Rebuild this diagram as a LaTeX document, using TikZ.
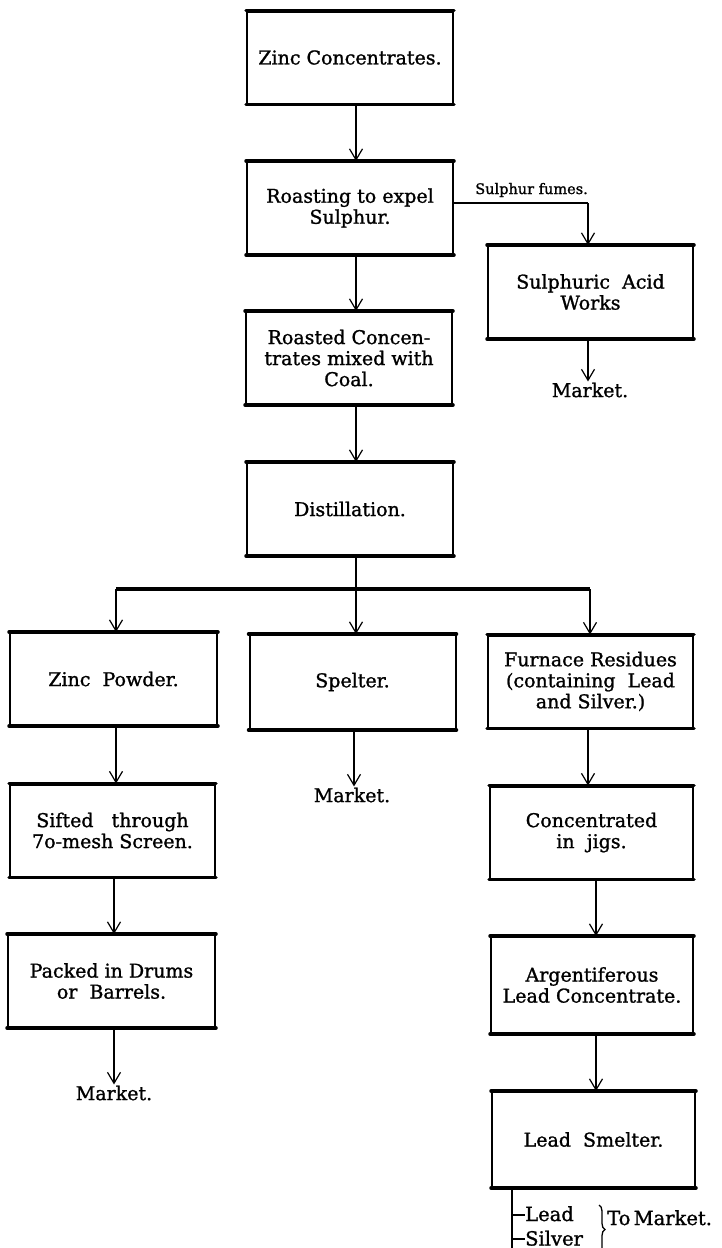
\documentclass[tikz,border=0pt]{standalone}
\usepackage{fontspec}
\setmainfont{DejaVu Serif}[FakeBold=1.2]
\usetikzlibrary{arrows.meta,decorations.pathreplacing}
\begin{document}
\begin{tikzpicture}[x=1pt,y=-1pt,
  box/.style={draw,line width=2pt,minimum width=206pt,minimum height=92pt,inner sep=0pt,align=center,font=\fontsize{19}{21}\selectfont},
  edge/.style={line width=3.5pt,line cap=round},
  arr/.style={line width=1.2pt,-{Straight Barb[length=11pt,width=13pt,line width=1.2pt]}},
  mkt/.style={font=\fontsize{19}{21}\selectfont,inner sep=1pt},
  small/.style={font=\fontsize{14.5}{16}\selectfont,inner sep=0pt},
  outlab/.style={font=\fontsize{19.5}{21}\selectfont,inner sep=0pt}
]
\useasboundingbox[fill=white] (0,0) rectangle (722,1248);

\node[box] (zc) at (350,57.5) {Zinc Concentrates.};
\node[box] (roast) at (350,208) {Roasting to expel\\Sulphur.};
\node[box,minimum width=205pt] (acid) at (590.5,292) {Sulphuric\ \ Acid\\Works};
\node[mkt] (m1) at (590,390) {Market.};
\node[box] (roasted) at (349,358) {Roasted Concen-\\trates mixed with\\Coal.};
\node[box] (dist) at (350,509) {Distillation.};
\node[box,minimum width=207pt] (zp) at (113.5,679) {Zinc\ \ Powder.};
\node[box,minimum height=94pt] (spelter) at (352.5,682) {Spelter.};
\node[box,minimum width=205pt] (furnace) at (590.5,681.5) {Furnace Residues\\(containing\ \ Lead\\and Silver.)};
\node[mkt] (m2) at (352,795) {Market.};
\node[box,minimum width=205pt] (sifted) at (112.5,830.5) {Sifted\ \ \ through\\7o-mesh Screen.};
\node[box,minimum width=203pt] (conc) at (591.5,832.5) {Concentrated\\in\ \ jigs.};
\node[box,minimum width=207pt] (packed) at (111.5,981) {Packed in Drums\\or\ \ Barrels.};
\node[mkt] (m3) at (114,1093) {Market.};
\node[box,minimum width=202pt,minimum height=96pt] (arg) at (592,985) {Argentiferous\\Lead Concentrate.};
\node[box,minimum width=203pt,minimum height=95pt] (smelter) at (593.5,1139.5) {Lead\ \ Smelter.};

\foreach \n in {zc,roast,acid,roasted,dist,zp,spelter,furnace,sifted,conc,packed,arg,smelter}
  \draw[edge] (\n.north west) -- (\n.north east) (\n.south west) -- (\n.south east);

% column x positions for the connectors
\coordinate (cM) at (356,0);
\coordinate (cA) at (588,0);
\coordinate (cL1) at (116,0);
\coordinate (cL2) at (114,0);
\coordinate (cS) at (354,0);
\coordinate (cR1) at (588,0);
\coordinate (cR2) at (596,0);

% main chain
\draw[arr] (zc.south -| cM) -- (roast.north -| cM);
\draw[arr] (roast.south -| cM) -- (roasted.north -| cM);
\draw[arr] (roasted.south -| cM) -- (dist.north -| cM);

% sulphur fumes
\coordinate (sf) at (588,203);
\draw[line width=2pt] (roast.east |- sf) -- (sf);
\draw[arr] (sf) -- (acid.north -| sf);
\node[small,anchor=base east] (sflab) at (588,194) {Sulphur\ fumes.};
\draw[arr] (acid.south -| cA) -- (m1.north -| cA);

% distillation split
\coordinate (bm) at (356,589);
\coordinate (bl) at (116,589);
\coordinate (br) at (590,589);
\draw[line width=2pt] (dist.south -| bm) -- (bm);
\draw[line width=3.2pt] (bl) -- (br);
\draw[arr] (bl) -- (zp.north -| bl);
\draw[arr] (bm) -- (spelter.north -| bm);
\draw[arr] (br) -- (furnace.north -| br);

% left column
\draw[arr] (zp.south -| cL1) -- (sifted.north -| cL1);
\draw[arr] (sifted.south -| cL2) -- (packed.north -| cL2);
\draw[arr] (packed.south -| cL2) -- (m3.north -| cL2);

% middle
\draw[arr] (spelter.south -| cS) -- (m2.north -| cS);

% right column
\draw[arr] (furnace.south -| cR1) -- (conc.north -| cR1);
\draw[arr] (conc.south -| cR2) -- (arg.north -| cR2);
\draw[arr] (arg.south -| cR2) -- (smelter.north -| cR2);

% lead smelter outputs
\coordinate (lb) at (512,1252);
\draw[line width=2.8pt] (smelter.south -| lb) -- (lb);
\node[outlab,anchor=base west] (lead) at (525,1221) {Lead};
\node[outlab,anchor=base west] (silver) at (525,1245.5) {Silver};
\coordinate (ld) at (525,1215);
\coordinate (sd) at (525,1239);
\draw[line width=1.2pt] (ld -| lb) -- (ld);
\draw[line width=1.2pt] (sd -| lb) -- (sd);
\coordinate (bt) at (599,1205);
\coordinate (bb) at (599,1254);
\draw[line width=1.3pt,decorate,decoration={brace,amplitude=6pt}] (bt) -- (bb);
\node[outlab,anchor=base west] (tm) at (607,1225) {To\,Market.};
\end{tikzpicture}
\end{document}
